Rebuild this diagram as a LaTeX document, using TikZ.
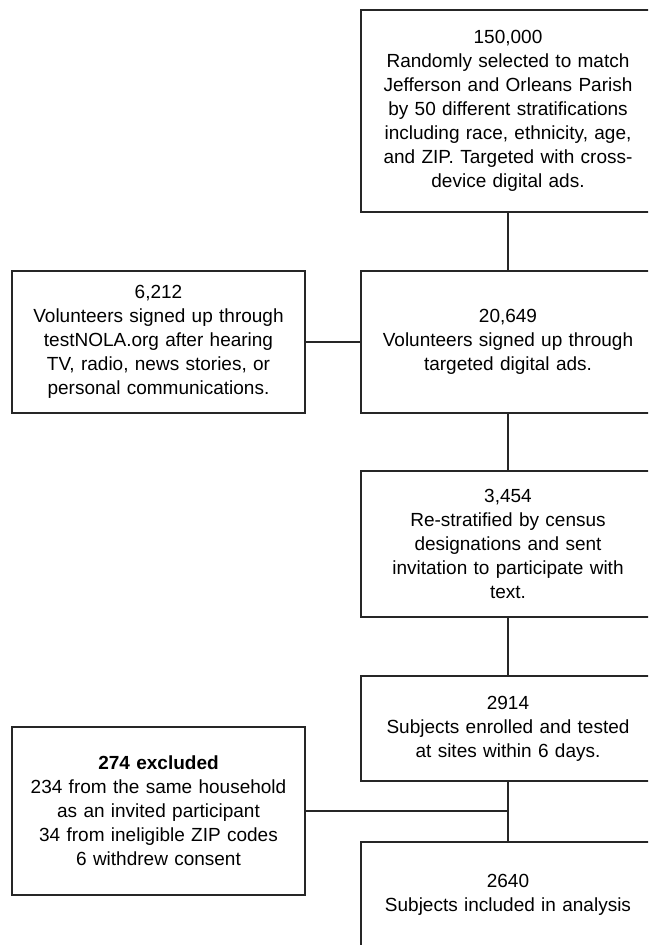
\documentclass[tikz,border=0pt]{standalone}
\usepackage{fontspec}
\setmainfont{Liberation Sans}
\usepackage{tikz}

\begin{document}
\begin{tikzpicture}[x=1pt,y=1pt]
	\tikzstyle{etape}=[rectangle,draw=black!85,line width=1.2pt,
	minimum width=294pt,text width=280pt,align=center,inner sep=0pt,
	font=\fontsize{19}{24}\selectfont]
	\tikzstyle{lien}=[draw=black!85,line width=1.2pt]

	\useasboundingbox (0,0) rectangle (648,-945);
	\clip (0,0) rectangle (648,-945);

	\node[etape,minimum height=202pt] (pop) at (508,-111) {150,000\\
	Randomly selected to match\\ Jefferson and Orleans Parish\\
	by 50 different stratifications\\ including race, ethnicity, age,\\
	and ZIP. Targeted with cross-\\ device digital ads.};
	\node[etape,minimum height=142pt] (ads) at (508,-342) {20,649\\
	Volunteers signed up through\\ targeted digital ads.};
	\node[etape,minimum width=293pt,minimum height=142pt] (media) at (158.5,-342)
	{6,212\\ Volunteers signed up through\\ testNOLA.org after hearing\\
	TV, radio, news stories, or\\ personal communications.};
	\node[etape,minimum height=146pt] (invit) at (508,-544) {3,454\\
	Re-stratified by census\\ designations and sent\\
	invitation to participate with\\ text.};
	\node[etape,minimum height=105pt] (teste) at (508,-728.5) {2914\\
	Subjects enrolled and tested\\ at sites within 6 days.};
	\node[etape,minimum width=293pt,minimum height=168pt] (exclu) at (158.5,-811)
	{\textbf{274 excluded}\\ 234 from the same household\\
	as an invited participant\\ 34 from ineligible ZIP codes\\
	6 withdrew consent};
	\node[etape,minimum height=106pt] (analyse) at (508,-895) {2640\\
	Subjects included in analysis};

	\coordinate (jonction) at (508,-811);

	\draw[lien] (pop) -- (ads);
	\draw[lien] (media) -- (ads);
	\draw[lien] (ads) -- (invit);
	\draw[lien] (invit) -- (teste);
	\draw[lien] (teste) -- (jonction) -- (analyse);
	\draw[lien] (exclu) -- (jonction);
\end{tikzpicture}
\end{document}
